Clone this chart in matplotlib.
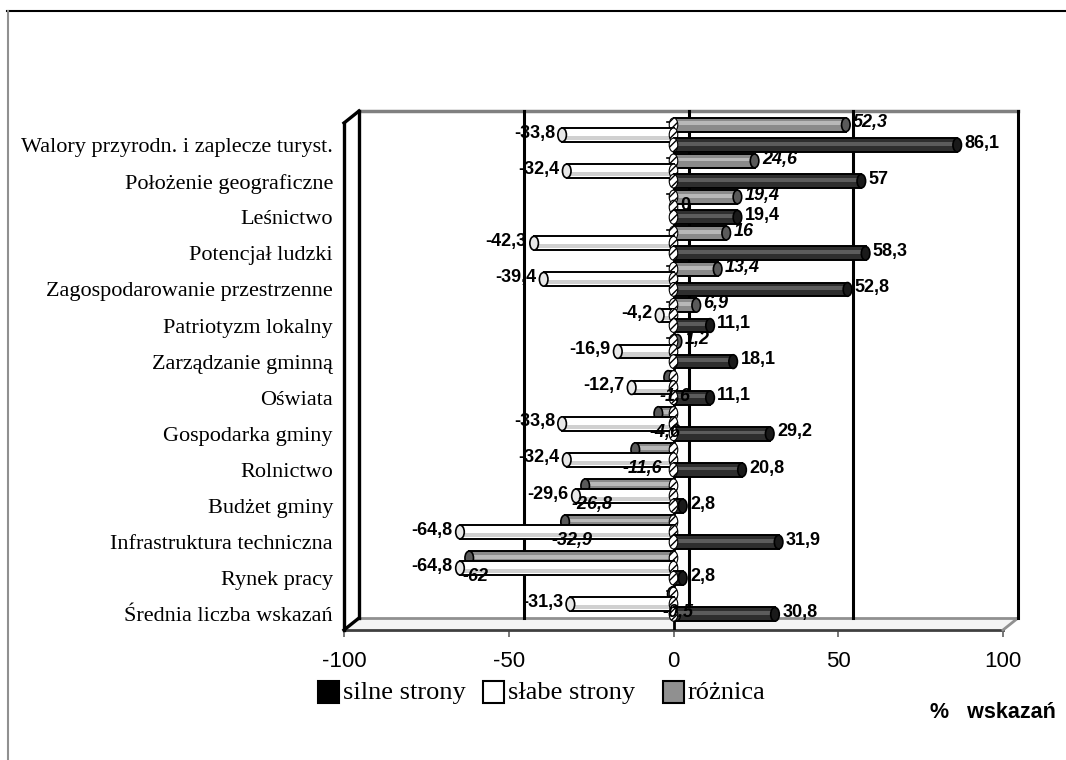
import matplotlib.pyplot as plt
from matplotlib.patches import Ellipse, Polygon, Rectangle
from matplotlib.lines import Line2D

# ── Data (top to bottom, as in the chart) ─────────────────────────────
categories = [
    "Walory przyrodn. i zaplecze turyst.",
    "Położenie geograficzne",
    "Leśnictwo",
    "Potencjał ludzki",
    "Zagospodarowanie przestrzenne",
    "Patriotyzm lokalny",
    "Zarządzanie gminną",
    "Oświata",
    "Gospodarka gminy",
    "Rolnictwo",
    "Budżet gminy",
    "Infrastruktura techniczna",
    "Rynek pracy",
    "Średnia liczba wskazań",
]
silne = [86.1, 57, 19.4, 58.3, 52.8, 11.1, 18.1, 11.1, 29.2, 20.8, 2.8, 31.9, 2.8, 30.8]
slabe = [-33.8, -32.4, 0, -42.3, -39.4, -4.2, -16.9, -12.7, -33.8, -32.4, -29.6, -64.8, -64.8, -31.3]
roznica = [52.3, 24.6, 19.4, 16, 13.4, 6.9, 1.2, -1.6, -4.6, -11.6, -26.8, -32.9, -62, -0.5]
x_ticks = [-100, -50, 0, 50, 100]
legend_labels = ["silne strony", "słabe strony", "różnica"]
legend_colors = ["black", "white", "#909090"]


def fmt(v):
    return ("%g" % v).replace(".", ",")


# ── Figure and axes placed in pixel terms ─────────────────────────────
W, H = 1066, 760
fig = plt.figure(figsize=(W / 100, H / 100), dpi=100)
ax = fig.add_axes([344 / W, (H - 630) / H, 674 / W, 519 / H])

px_x = 659 / 200.0          # pixels per % unit
px_y = 36.1                 # pixels per category
dx = 15 / px_x              # depth shift of the back wall
dy = 12 / px_y
y_top = (145 - 111) / px_y
y_bot = -(630 - 145) / px_y

ax.set_xlim(-100, 100 + dx)
ax.set_ylim(y_bot, y_top)
for s in ax.spines.values():
    s.set_visible(False)

# floor
floor = Polygon([(-100, y_bot), (100, y_bot), (100 + dx, y_bot + dy), (-100 + dx, y_bot + dy)],
                closed=True, facecolor="#f4f4f4", edgecolor="none", clip_on=False, zorder=1)
ax.add_patch(floor)
ax.plot([-100, 100], [y_bot, y_bot], color="#404040", lw=2, clip_on=False, zorder=2)
ax.plot([-100 + dx, 100 + dx], [y_bot + dy, y_bot + dy], color="#909090", lw=2, clip_on=False, zorder=2)
ax.plot([100, 100 + dx], [y_bot, y_bot + dy], color="#909090", lw=2, clip_on=False, zorder=2)

# back wall top edge and grid lines
ax.plot([-100 + dx, 100 + dx], [y_top, y_top], color="#808080", lw=2.5, clip_on=False, zorder=2)
for t in x_ticks[1:]:
    ax.plot([t + dx, t + dx], [y_bot + dy, y_top], color="black", lw=2.2, clip_on=False, zorder=2)

# left wall
lw_top = y_top - dy
ax.plot([-100, -100], [y_bot, lw_top], color="black", lw=2.4, clip_on=False, zorder=3)
ax.plot([-100 + dx, -100 + dx], [y_bot + dy, y_top], color="black", lw=2.4, clip_on=False, zorder=3)
ax.plot([-100, -100 + dx], [lw_top, y_top], color="black", lw=2.4, clip_on=False, zorder=3)
ax.plot([-100, -100 + dx], [y_bot, y_bot + dy], color="black", lw=2.4, clip_on=False, zorder=3)

# category axis at zero
ax.plot([0, 0], [y_bot, y_top - 0.2], color="black", lw=2, zorder=4)

# ── Bars ──────────────────────────────────────────────────────────────
h = 0.38
series = [
    (roznica, 0.56, "#8a8a8a", "#b8b8b8", "#5a5a5a", True),
    (slabe, 0.28, "#ffffff", "#d0d0d0", "#e8e8e8", False),
    (silne, 0.0, "#2e2e2e", "#5c5c5c", "#1a1a1a", False),
]
n = len(categories)
ys = [-k for k in range(n)]

for si, (vals, off, face, band, cap, italic) in enumerate(series):
    z = 5 + si * 3
    yy = [y + off for y in ys]
    ax.barh(yy, vals, height=h, color=face, edgecolor="black", lw=1.4, zorder=z)
    # shading strip for the cylinder look
    if face == "#ffffff":
        ax.barh([y - h * 0.22 for y in yy], vals, height=h * 0.3, color=band, lw=0, zorder=z + 0.5)
    else:
        ax.barh([y + h * 0.1 for y in yy], vals, height=h * 0.28, color=band, lw=0, zorder=z + 0.5)
    for y, v in zip(yy, vals):
        if v != 0:
            ax.add_patch(Ellipse((v, y), width=2.6, height=h, facecolor=cap,
                                 edgecolor="black", lw=1.2, zorder=z + 1))
        ax.add_patch(Ellipse((0, y), width=2.6, height=h, facecolor="white",
                             edgecolor="black", lw=0.8, hatch="////", zorder=z + 1))
        if italic and v < 0:
            # negative differences sit below their bar, like in the original
            ax.text(v + 2, y - 0.52, fmt(v), ha="center", va="center",
                    fontsize=13, fontweight="bold", fontstyle="italic",
                    family="Liberation Sans", zorder=20)
            continue
        sign = 1 if v >= 0 else -1
        ax.text(v + sign * 2.2, y + 0.05, fmt(v),
                ha="left" if sign > 0 else "right", va="center",
                fontsize=13, fontweight="bold", fontstyle="italic" if italic else "normal",
                family="Liberation Sans", zorder=20)

# small category ticks on the zero axis
for y in ys:
    ax.plot([-2, 0], [y + 0.64, y + 0.64], color="black", lw=1.2, zorder=4)

# ── Ticks and labels ──────────────────────────────────────────────────
ax.set_xticks(x_ticks)
ax.set_xticklabels([str(t) for t in x_ticks], family="Liberation Sans", fontsize=16)
ax.tick_params(axis="x", length=5, width=1.2, color="#606060", pad=10)
ax.set_yticks(ys)
ax.set_yticklabels(categories, family="Liberation Serif", fontsize=16)
ax.tick_params(axis="y", length=0, pad=8)

# legend, drawn by hand to keep Excel's uneven spacing
leg_x = [318, 483, 663]
for x0, lab, col in zip(leg_x, legend_labels, legend_colors):
    fig.add_artist(Rectangle((x0 / W, 1 - 703 / H), 21 / W, 22 / H, facecolor=col,
                             edgecolor="black", lw=1.5, transform=fig.transFigure))
    fig.text((x0 + 25) / W, 1 - 693 / H, lab, ha="left", va="center",
             family="Liberation Serif", fontsize=19)

fig.text(1056 / W, 1 - 712 / H, "%   wskazań", ha="right", va="center",
         family="Liberation Sans", fontsize=15.5, fontweight="bold")

# outer chart border (top and left only are visible)
fig.add_artist(Line2D([7 / W, 1], [1 - 11 / H, 1 - 11 / H], color="black", lw=1.5))
fig.add_artist(Line2D([8 / W, 8 / W], [0, 1 - 11 / H], color="#909090", lw=1.5))

fig.savefig("out.png", dpi=100)
